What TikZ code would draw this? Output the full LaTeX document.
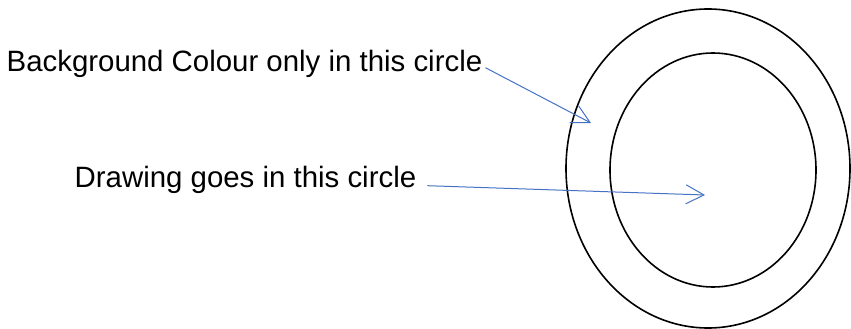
\documentclass[tikz,border=0pt]{standalone}
\usepackage{fontspec}
\setmainfont{Liberation Sans}
\usetikzlibrary{arrows.meta,shapes.geometric}
\definecolor{okMavi}{HTML}{4472C4}

\begin{document}
\begin{tikzpicture}[x=1pt,y=-1pt,
  ring/.style={draw,ellipse,line width=1.6pt,inner sep=0pt},
  note/.style={inner sep=0pt,anchor=base west,font=\fontsize{29.4}{34}\selectfont},
  pointer/.style={okMavi,line width=1pt,-{Straight Barb[length=18pt,width=19pt]}}]
\useasboundingbox (0,0) rectangle (851,329);
\node[ring,minimum width=284pt,minimum height=319pt] (outer) at (708,168.5) {};
\node[ring,minimum width=206pt,minimum height=234pt] (inner) at (713,170) {};
\node[note] (bgtext) at (6.5,71.7) {Background Colour only in this circle};
\node[note] (drawtext) at (74.5,187.7) {Drawing goes in this circle};
\coordinate (bgto) at (591,123);
\coordinate (drawto) at (705,195);
\draw[pointer] ([shift={(3,-4)}]bgtext.base east) -- (bgto);
\draw[pointer] ([shift={(11,-2)}]drawtext.base east) -- (drawto);
\end{tikzpicture}
\end{document}
